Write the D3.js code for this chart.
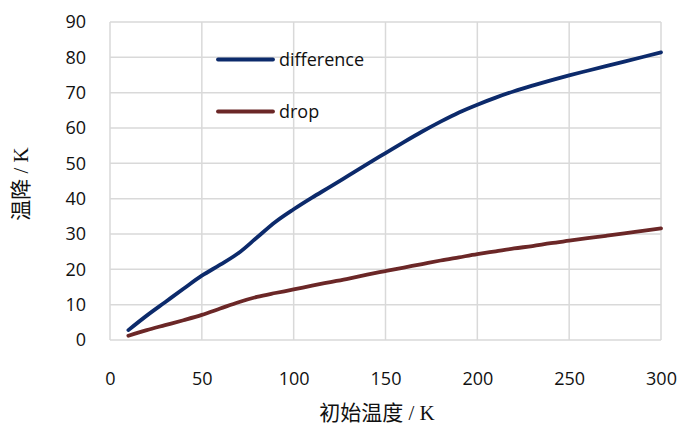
<!DOCTYPE html>
<html><head><meta charset="utf-8">
<script src="https://cdn.jsdelivr.net/npm/d3@7"></script>
<style>body{margin:0;background:#fff}svg{display:block}</style>
</head><body>
<script>
const temps = [10,20,30,40,50,60,70,80,90,100,110,120,130,140,150,160,170,180,190,200,210,220,230,240,250,260,270,280,290,300];
const differenceVals = [2.8,6.9,10.7,14.5,18.2,21.3,24.6,29.0,33.4,37.0,40.3,43.4,46.6,49.8,52.9,56.0,59.0,61.8,64.4,66.6,68.6,70.4,72.0,73.5,74.9,76.2,77.5,78.8,80.1,81.4];
const dropVals = [1.2,2.8,4.2,5.6,7.1,8.9,10.7,12.2,13.3,14.3,15.4,16.4,17.4,18.5,19.5,20.5,21.5,22.5,23.4,24.3,25.1,25.9,26.6,27.4,28.1,28.8,29.5,30.2,30.9,31.6];
const seriesNames = ["difference","drop"];
const seriesColors = ["#0c2a6b","#6b2727"];
const xTicks = [0,50,100,150,200,250,300];
const yTicks = [0,10,20,30,40,50,60,70,80,90];
const xTitle = "初始温度 / K";
const yTitle = "温降 / K";

const W=681,H=426;
const svg=d3.select("body").append("svg").attr("width",W).attr("height",H);
const x=d3.scaleLinear().domain([0,300]).range([110,661]);
const y=d3.scaleLinear().domain([0,90]).range([340,22]);
const grid="#d9d9d9";
const tickFont="'Open Sans', sans-serif";

// gridlines
svg.append("g").selectAll("line").data(xTicks).join("line")
  .attr("x1",d=>x(d)).attr("x2",d=>x(d)).attr("y1",y(0)).attr("y2",y(90))
  .attr("stroke",grid).attr("stroke-width",1.5);
svg.append("g").selectAll("line").data(yTicks).join("line")
  .attr("x1",x(0)).attr("x2",x(300)).attr("y1",d=>y(d)).attr("y2",d=>y(d))
  .attr("stroke",grid).attr("stroke-width",1.5);

// axes labels via d3 axes
const xAxis=svg.append("g").attr("transform",`translate(0,${y(0)})`)
  .call(d3.axisBottom(x).tickValues(xTicks).tickSize(0).tickPadding(32));
xAxis.select(".domain").remove();
xAxis.selectAll("text").attr("font-family",tickFont).attr("font-size",18).attr("fill","#111");
const yAxis=svg.append("g").attr("transform",`translate(${x(0)},0)`)
  .call(d3.axisLeft(y).tickValues(yTicks).tickSize(0).tickPadding(24));
yAxis.select(".domain").remove();
yAxis.selectAll("text").attr("font-family",tickFont).attr("font-size",18).attr("fill","#111");

// lines
const series=[differenceVals,dropVals];
const line=d3.line().x((d,i)=>x(temps[i])).y(d=>y(d)).curve(d3.curveMonotoneX);
series.forEach((s,k)=>{
  svg.append("path").datum(s).attr("d",line).attr("fill","none")
    .attr("stroke",seriesColors[k]).attr("stroke-width",3.8).attr("stroke-linecap","round");
});

// legend
const legY=[59.5,111.5];
seriesNames.forEach((n,k)=>{
  svg.append("line").attr("x1",218).attr("x2",273).attr("y1",legY[k]).attr("y2",legY[k])
    .attr("stroke",seriesColors[k]).attr("stroke-width",3.8).attr("stroke-linecap","round");
  svg.append("text").attr("x",279).attr("y",legY[k]).attr("dy","0.35em")
    .attr("font-family",tickFont).attr("font-size",18).attr("fill","#111").text(n);
});

// titles
const titleFont="'Liberation Serif','Noto Sans CJK SC',serif";
svg.append("text").attr("x",377).attr("y",413).attr("dy","0.35em").attr("text-anchor","middle")
  .attr("font-family",titleFont).attr("font-size",21).attr("fill","#111").text(xTitle);
svg.append("text").attr("transform","translate(21,184) rotate(-90)").attr("dy","0.35em").attr("text-anchor","middle")
  .attr("font-family",titleFont).attr("font-size",21).attr("fill","#111").text(yTitle);
</script>
</body></html>
